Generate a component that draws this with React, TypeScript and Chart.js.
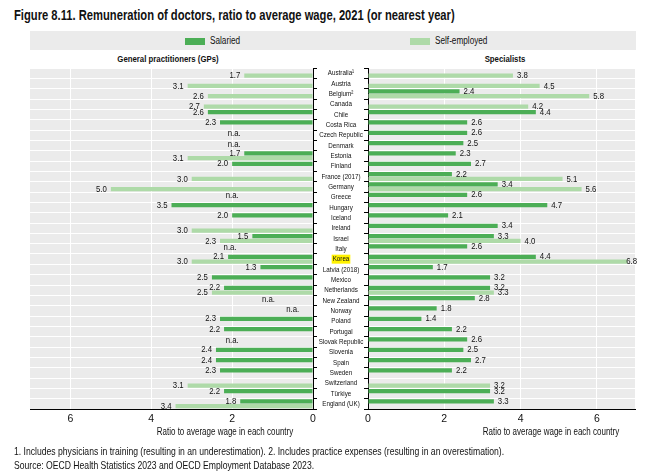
import React, { useEffect, useRef } from 'react';
import { Chart, registerables } from 'chart.js';

Chart.register(...registerables);

const countries = [
  'Australia¹', 'Austria', 'Belgium²', 'Canada', 'Chile', 'Costa Rica', 'Czech Republic', 'Denmark',
  'Estonia', 'Finland', 'France (2017)', 'Germany', 'Greece', 'Hungary', 'Iceland', 'Ireland', 'Israel',
  'Italy', 'Korea', 'Latvia (2018)', 'Mexico', 'Netherlands', 'New Zealand', 'Norway', 'Poland',
  'Portugal', 'Slovak Republic', 'Slovenia', 'Spain', 'Sweden', 'Switzerland', 'Türkiye', 'England (UK)',
];

const gpSalaried = [
  null, null, null, null, 2.6, 2.3, null, null,
  1.7, 2.0, null, null, null, 3.5, 2.0, null, 1.5,
  null, 2.1, 1.3, 2.5, 2.2, null, null, 2.3,
  2.2, null, 2.4, 2.4, 2.3, null, 2.2, 1.8,
];

const gpSelfEmployed = [
  1.7, 3.1, 2.6, 2.7, null, null, null, null,
  3.1, null, 3.0, 5.0, null, null, null, 3.0, 2.3,
  null, 3.0, null, null, 2.5, null, null, null,
  null, null, null, null, null, 3.1, null, 3.4,
];

const spSalaried = [
  null, null, 2.4, null, 4.4, 2.6, 2.6, 2.5,
  2.3, 2.7, 2.2, 3.4, 2.6, 4.7, 2.1, 3.4, 3.3,
  2.6, 4.4, 1.7, 3.2, 3.2, 2.8, 1.8, 1.4,
  2.2, 2.6, 2.5, 2.7, 2.2, null, 3.2, 3.3,
];

const spSelfEmployed = [
  3.8, 4.5, 5.8, 4.2, null, null, null, null,
  null, null, 5.1, 5.6, null, null, null, null, 4.0,
  null, 6.8, null, null, 3.3, null, null, null,
  null, null, null, null, null, 3.2, null, null,
];

const gpNotAvailable = ['Czech Republic', 'Denmark', 'Greece', 'Italy', 'New Zealand', 'Norway', 'Slovak Republic'];
const gpNotAvailableAt = [1.95, 1.95, 2.0, 2.05, 1.1, 0.5, 2.0];
const highlighted = 'Korea';

const FONT = '"Liberation Sans", Arial, sans-serif';
const DARK = '#4cae56';
const LIGHT = '#aedaa8';
const BG = '#ebebeb';

function narrowText(ctx: any, text: string, x: number, y: number, align: string, sx: number) {
  ctx.save();
  ctx.translate(x, y);
  ctx.scale(sx, 1);
  ctx.textAlign = align;
  ctx.fillText(text, 0, 0);
  ctx.restore();
}

const bgPlugin = {
  id: 'panelBg',
  beforeDraw(chart: any) {
    const { ctx, chartArea } = chart;
    ctx.save();
    ctx.fillStyle = BG;
    ctx.fillRect(chartArea.left, chartArea.top, chartArea.right - chartArea.left, chartArea.bottom - chartArea.top);
    ctx.restore();
  },
};

const valueLabels = (side: 'left' | 'right') => ({
  id: 'valueLabels',
  afterDatasetsDraw(chart: any) {
    const ctx = chart.ctx;
    ctx.save();
    ctx.font = `9.5px ${FONT}`;
    ctx.fillStyle = '#111';
    ctx.textBaseline = 'middle';
    chart.data.datasets.forEach((ds: any, di: number) => {
      const meta = chart.getDatasetMeta(di);
      meta.data.forEach((el: any, i: number) => {
        const v = ds.data[i];
        if (v == null) return;
        const txt = v.toFixed(1);
        const w = ctx.measureText(txt).width * 0.82;
        if (side === 'left') {
          narrowText(ctx, txt, el.x - 4, el.y, 'right', 0.82);
        } else {
          let x = el.x + 4;
          if (x + w > chart.chartArea.right + 2) x = chart.chartArea.right + 2 - w;
          narrowText(ctx, txt, x, el.y, 'left', 0.82);
        }
      });
    });
    if (side === 'left') {
      gpNotAvailable.forEach((name, k) => {
        const idx = countries.indexOf(name);
        const y = chart.scales.y.getPixelForValue(idx) - 1.5;
        const x = chart.scales.x.getPixelForValue(gpNotAvailableAt[k]);
        narrowText(ctx, 'n.a.', x, y, 'center', 0.82);
      });
    }
    ctx.restore();
  },
});

// Category labels of the right panel's y axis, drawn centred in the gap between the panels.
const countryLabels = {
  id: 'countryLabels',
  afterDraw(chart: any) {
    const scale = chart.scales.y;
    const ctx = chart.ctx;
    const cx = scale.right - 27;
    ctx.save();
    ctx.font = `8px ${FONT}`;
    ctx.textBaseline = 'middle';
    countries.forEach((name, i) => {
      const y = scale.getPixelForValue(i);
      if (name === highlighted) {
        const w = ctx.measureText(name).width * 0.78;
        ctx.fillStyle = '#fff200';
        ctx.fillRect(cx - w / 2 - 1, y - 4.5, w + 2, 9);
      }
      ctx.fillStyle = '#111';
      narrowText(ctx, name, cx, y, 'center', 0.78);
    });
    ctx.restore();
  },
};

function makeConfig(side: 'left' | 'right', salaried: (number | null)[], selfEmp: (number | null)[]): any {
  const left = side === 'left';
  return {
    type: 'bar',
    data: {
      labels: countries,
      datasets: [
        { label: 'Salaried', data: salaried, backgroundColor: DARK, categoryPercentage: 0.92, barPercentage: 0.88 },
        { label: 'Self-employed', data: selfEmp, backgroundColor: LIGHT, categoryPercentage: 0.92, barPercentage: 0.88 },
      ],
    },
    options: {
      indexAxis: 'y',
      animation: false,
      responsive: false,
      maintainAspectRatio: false,
      layout: { padding: left ? { left: 30, top: 68, right: 0, bottom: 0 } : { left: 0, top: 68, right: 23, bottom: 0 } },
      plugins: { legend: { display: false }, tooltip: { enabled: false } },
      scales: {
        x: {
          type: 'linear',
          min: 0,
          max: 7,
          reverse: left,
          position: 'bottom',
          ticks: { stepSize: 2, includeBounds: false, color: '#111', font: { family: FONT, size: 10.5 }, padding: 4 },
          grid: { color: '#ffffff', lineWidth: 1, drawTicks: false },
          border: { color: '#000', width: 1 },
          afterFit: (s: any) => { s.height = 31; },
        },
        y: {
          type: 'category',
          position: left ? 'right' : 'left',
          offset: true,
          ticks: { display: false },
          grid: { color: '#ffffff', lineWidth: 1, offset: true, tickLength: 4, tickColor: '#000' },
          border: { color: '#000', width: 1 },
          afterFit: (s: any) => { s.width = left ? 27 : 68; },
        },
      },
    },
    plugins: left ? [bgPlugin, valueLabels('left')] : [bgPlugin, valueLabels('right'), countryLabels],
  };
}

function Panel(props: { side: 'left' | 'right'; salaried: (number | null)[]; selfEmp: (number | null)[]; style: any }) {
  const ref = useRef<HTMLCanvasElement>(null);
  useEffect(() => {
    if (!ref.current) return;
    const chart = new Chart(ref.current, makeConfig(props.side, props.salaried, props.selfEmp));
    return () => chart.destroy();
  }, []);
  return <canvas ref={ref} width={props.style.width} height={props.style.height} style={{ position: 'absolute', ...props.style }} />;
}

const textBase: any = { position: 'absolute', fontFamily: FONT, color: '#111', whiteSpace: 'nowrap', lineHeight: 1 };

function Txt(props: { x: number; y: number; size: number; sx: number; bold?: boolean; center?: boolean; children: any }) {
  const tr = props.center ? `translateX(-50%) scaleX(${props.sx})` : `scaleX(${props.sx})`;
  return (
    <div
      style={{
        ...textBase,
        left: props.x,
        top: props.y,
        fontSize: props.size,
        fontWeight: props.bold ? 'bold' : 'normal',
        transform: tr,
        transformOrigin: props.center ? '50% 50%' : '0 50%',
      }}
    >
      {props.children}
    </div>
  );
}

export default function App() {
  return (
    <div style={{ position: 'fixed', left: 0, top: 0, width: 658, height: 473, background: '#fff', overflow: 'hidden' }}>
      <Txt x={14} y={8} size={14} sx={0.8} bold>
        Figure 8.11. Remuneration of doctors, ratio to average wage, 2021 (or nearest year)
      </Txt>
      <div style={{ position: 'absolute', left: 30, top: 31, width: 606, height: 19, background: BG }} />
      <div style={{ position: 'absolute', left: 185, top: 38, width: 20, height: 7, background: DARK }} />
      <Txt x={210} y={36} size={10} sx={0.82}>Salaried</Txt>
      <div style={{ position: 'absolute', left: 410, top: 38, width: 20, height: 7, background: LIGHT }} />
      <Txt x={435} y={36} size={10} sx={0.82}>Self-employed</Txt>
      <Txt x={168} y={54} size={9.5} sx={0.82} bold center>General practitioners (GPs)</Txt>
      <Txt x={505} y={54} size={9.5} sx={0.82} bold center>Specialists</Txt>
      <Panel side="left" salaried={gpSalaried} selfEmp={gpSelfEmployed} style={{ left: 0, top: 0, width: 340, height: 440 }} />
      <Panel side="right" salaried={spSalaried} selfEmp={spSelfEmployed} style={{ left: 300, top: 0, width: 358, height: 440 }} />
      <Txt x={225} y={427} size={10} sx={0.8} center>Ratio to average wage in each country</Txt>
      <Txt x={551} y={427} size={10} sx={0.8} center>Ratio to average wage in each country</Txt>
      <Txt x={14} y={446} size={10.5} sx={0.82}>
        1. Includes physicians in training (resulting in an underestimation). 2. Includes practice expenses (resulting in an overestimation).
      </Txt>
      <Txt x={14} y={460} size={10.5} sx={0.82}>
        Source: OECD Health Statistics 2023 and OECD Employment Database 2023.
      </Txt>
    </div>
  );
}
